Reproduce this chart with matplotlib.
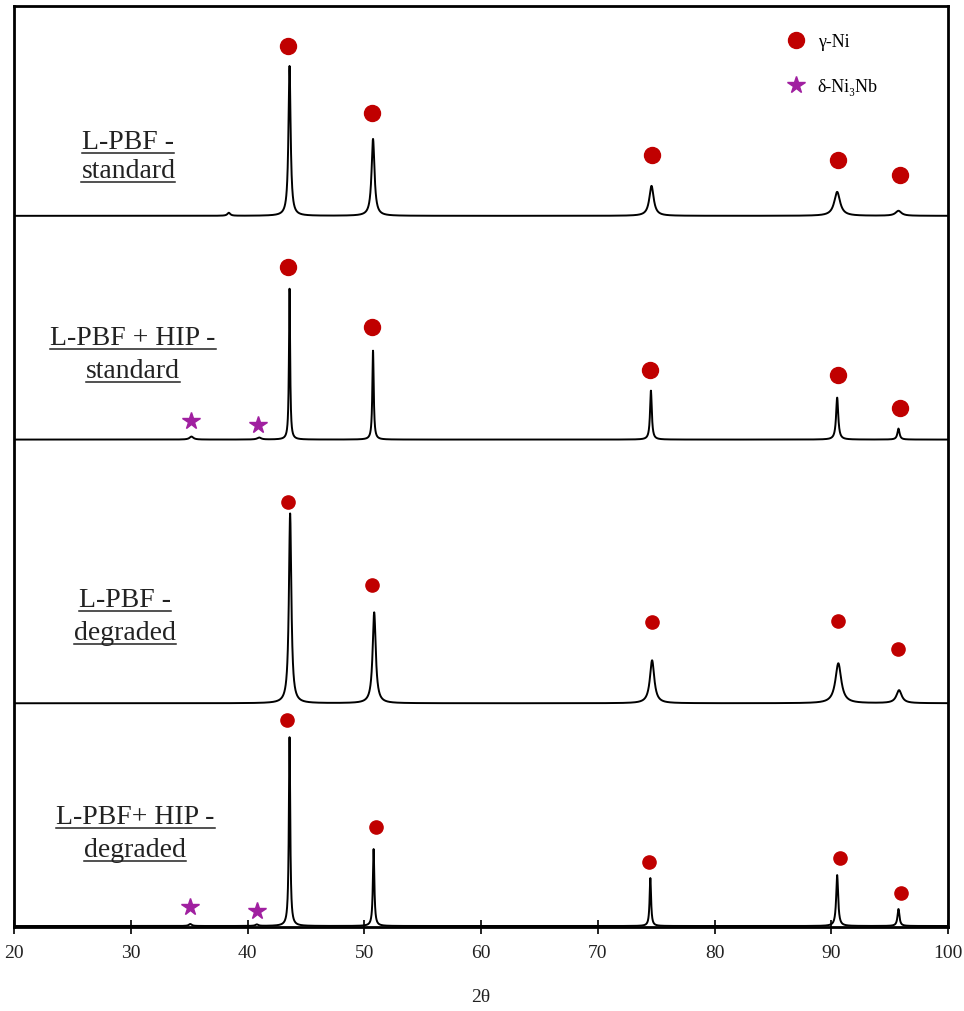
import numpy as np
import matplotlib
matplotlib.use("Agg")
import matplotlib.pyplot as plt
from matplotlib.lines import Line2D

plt.rcParams['font.family'] = ['Liberation Serif', 'DejaVu Serif']

# sample labels (two lines each) and vertical offsets of each pattern
labels = [("L-PBF -", "standard"),
          ("L-PBF + HIP -", "standard"),
          ("L-PBF -", "degraded"),
          ("L-PBF+ HIP -", "degraded")]
offsets = [711, 487, 223, 0]

# peak lists per pattern: position (2theta), height, fwhm
pk_pos = [[38.4, 43.6, 50.75, 74.6, 90.5, 95.75],
          [35.2, 41.0, 43.6, 50.75, 74.55, 90.5, 95.75],
          [43.65, 50.85, 74.65, 90.6, 95.8],
          [35.1, 40.8, 43.6, 50.8, 74.5, 90.5, 95.75]]
pk_h = [[3, 150, 77, 30, 24, 5],
        [3, 2, 151, 89, 49, 42, 11],
        [190, 91, 43, 40, 13],
        [2, 1.5, 189, 77, 48, 51, 17]]
pk_w = [[0.3, 0.22, 0.3, 0.45, 0.6, 0.6],
        [0.4, 0.4, 0.12, 0.14, 0.18, 0.22, 0.22],
        [0.25, 0.32, 0.45, 0.6, 0.55],
        [0.3, 0.3, 0.14, 0.15, 0.15, 0.2, 0.2]]

# phase markers: gamma-Ni circles and delta-Ni3Nb stars (x, y above baseline)
gam_x = [[43.5, 50.7, 74.6, 90.6, 95.9],
         [43.5, 50.7, 74.5, 90.6, 95.9],
         [43.5, 50.7, 74.6, 90.6, 95.7],
         [43.4, 51.0, 74.4, 90.7, 96.0]]
gam_y = [[170, 103, 61, 56, 41],
         [173, 113, 70, 65, 32],
         [202, 118, 81, 82, 54],
         [206, 99, 64, 68, 33]]
gam_ms = [11.5, 11.5, 9.5, 9.5]
del_x = [[], [35.2, 40.9], [], [35.1, 40.8]]
del_y = [[], [19, 15], [], [19, 15]]

xt = np.arange(20, 101, 10)
twotheta = np.linspace(20, 100, 8001)

fig = plt.figure(figsize=(9.64, 10.12), dpi=100)
ax = fig.add_axes([0.0145, 0.083, 0.969, 0.910])

for i in range(4):
    y = np.zeros_like(twotheta)
    for p, h, w in zip(pk_pos[i], pk_h[i], pk_w[i]):
        g = (w / 2) ** 2
        y += h * g / ((twotheta - p) ** 2 + g)
    ax.plot(twotheta, y + offsets[i], color='black', lw=1.4)
    ax.plot(gam_x[i], np.array(gam_y[i]) + offsets[i], 'o', color='#C00000',
            ms=gam_ms[i], mec='#C00000', ls='none')
    if del_x[i]:
        ax.plot(del_x[i], np.array(del_y[i]) + offsets[i], '*', color='#A020A0',
                ms=13, ls='none')

ax.set_xlim(20, 100)
ax.set_ylim(-1, 921)
ax.set_xticks(xt)
ax.set_xticklabels([str(v) for v in xt], fontsize=14, color='#222222')
ax.set_yticks([])
ax.tick_params(axis='x', direction='inout', length=10, width=1.2, pad=7)
for s in ax.spines.values():
    s.set_linewidth(2.0)
ax.set_xlabel('2θ', fontsize=14, labelpad=20, color='#222222')

# legend
h1 = Line2D([], [], marker='o', color='#C00000', ls='none', ms=11.5)
h2 = Line2D([], [], marker='*', color='#A020A0', ls='none', ms=13)
leg = ax.legend([h1, h2], ['γ-Ni', 'δ-Ni₃Nb'], loc='upper right',
                bbox_to_anchor=(0.942, 0.988), frameon=False, fontsize=13,
                labelspacing=1.55, handletextpad=0.6, handlelength=1.2)

# sample labels, underlined
lab_x = [29.8, 30.2, 29.5, 30.4]
lab_y1 = [785, 589, 327, 110]
lab_y2 = [756, 556, 294, 77]
texts = []
for i in range(4):
    for s, yy in zip(labels[i], (lab_y1[i], lab_y2[i])):
        texts.append(ax.text(lab_x[i], yy, s, fontsize=20, ha='center',
                             va='center', color='#222222'))

fig.canvas.draw()
r = fig.canvas.get_renderer()
inv = fig.transFigure.inverted()
for t in texts:
    bb = t.get_window_extent(r)
    (x0, y0), (x1, y1) = inv.transform([(bb.x0, bb.y0), (bb.x1, bb.y1)])
    fig.add_artist(Line2D([x0, x1], [y0 + 0.001, y0 + 0.001], color='#222222',
                          lw=1.1, transform=fig.transFigure))

fig.savefig('out.png', dpi=100)
